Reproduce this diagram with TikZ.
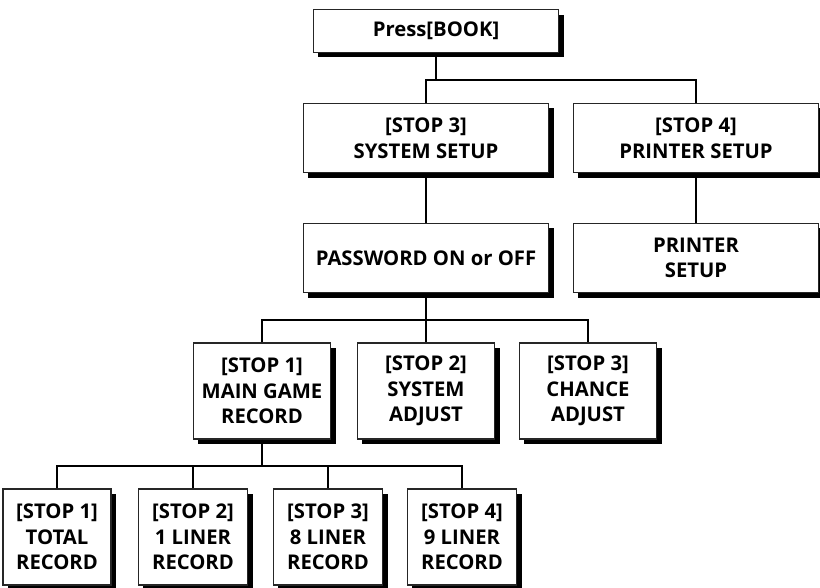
\documentclass[tikz,border=0pt]{standalone}
\usepackage{fontspec}
\setmainfont{Open Sans}
\usetikzlibrary{shadows}

\tikzset{
  menubox/.style={draw=black!85, line width=0.9pt, fill=white, align=center,
    inner sep=0pt, font=\fontsize{15.2}{19.2}\selectfont\bfseries,
    drop shadow={shadow xshift=3.8pt, shadow yshift=-3.8pt, fill=black, opacity=1}},
  link/.style={line width=1pt, black}
}

\begin{document}
\begin{tikzpicture}[x=0.75pt, y=-0.75pt]
\useasboundingbox (0,0) rectangle (820,588);
% top row
\node [menubox, minimum width=184pt, minimum height=32pt] (book) at (436,31) {Press[BOOK]};
\node [menubox, minimum width=184pt, minimum height=52pt] (sys) at (426,138) {[STOP 3]\\SYSTEM SETUP};
\node [menubox, minimum width=184pt, minimum height=52pt] (prn) at (696,138) {[STOP 4]\\PRINTER SETUP};
\node [menubox, minimum width=184pt, minimum height=52pt] (pwd) at (426,258) {PASSWORD ON or OFF};
\node [menubox, minimum width=184pt, minimum height=52pt] (psu) at (696,258) {PRINTER\\SETUP};
% middle row
\node [menubox, minimum width=103pt, minimum height=72pt] (game) at (262,391) {[STOP 1]\\MAIN GAME\\RECORD};
\node [menubox, minimum width=103pt, minimum height=72pt] (sadj) at (426,391) {[STOP 2]\\SYSTEM\\ADJUST};
\node [menubox, minimum width=103pt, minimum height=72pt] (cadj) at (588,391) {[STOP 3]\\CHANCE\\ADJUST};
% bottom row
\node [menubox, minimum width=81pt, minimum height=72pt] (total) at (57,537) {[STOP 1]\\TOTAL\\RECORD};
\node [menubox, minimum width=82pt, minimum height=72pt] (one) at (193,537) {[STOP 2]\\1 LINER\\RECORD};
\node [menubox, minimum width=82pt, minimum height=72pt] (eight) at (328,537) {[STOP 3]\\8 LINER\\RECORD};
\node [menubox, minimum width=82pt, minimum height=72pt] (nine) at (462,537) {[STOP 4]\\9 LINER\\RECORD};
% joints
\coordinate (j1) at (436,80);
\coordinate (j2) at (426,320);
\coordinate (j3) at (262,466);
% connectors
\draw [link] (book.south) -- (j1);
\draw [link] (sys.north) -- (sys.north |- j1) -| (prn.north);
\draw [link] (sys.south) -- (pwd.north);
\draw [link] (prn.south) -- (psu.north);
\draw [link] (pwd.south) -- (sadj.north);
\draw [link] (game.north) -- (game.north |- j2) -| (cadj.north);
\draw [link] (game.south) -- (j3);
\draw [link] (total.north) -- (total.north |- j3) -| (nine.north);
\draw [link] (one.north) -- (one.north |- j3);
\draw [link] (eight.north) -- (eight.north |- j3);
\end{tikzpicture}
\end{document}
